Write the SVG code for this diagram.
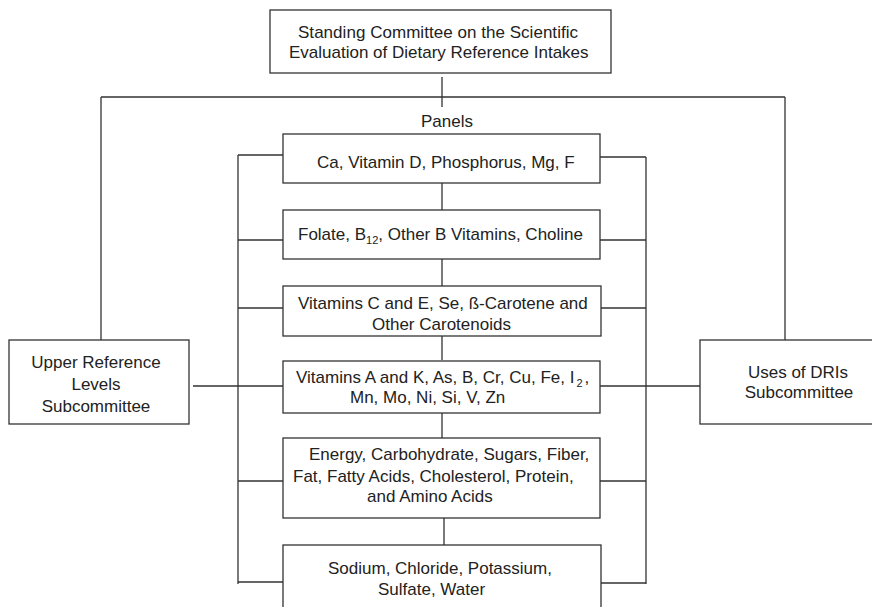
<svg xmlns="http://www.w3.org/2000/svg" width="872" height="607" viewBox="0 0 872 607">
<style>
.box{fill:#fff;stroke:#333;stroke-width:1.3}
.ln{stroke:#333;stroke-width:1.3;fill:none}
text{font-family:"Liberation Sans",Arial,sans-serif;font-size:17px;fill:#222}
.c{text-anchor:middle}
.sub{font-size:11px}
</style>
<rect width="872" height="607" fill="#fff"/>
<g id="connectors">
<path class="ln" d="M442 77V107M101 97H785M101 97V340M785 97V340"/>
<path class="ln" d="M238 155V584M646 157V584"/>
<path class="ln" d="M238 155H283M238 240H283M238 308H283M238 386H283M238 481H283M238 582H283"/>
<path class="ln" d="M600 157H646M600 240H646M601 308H646M600 386H646M600 481H646M601 583H646"/>
<path class="ln" d="M193 386H238M646 386H700"/>
<path class="ln" d="M442 183V210M442 259V286M442 336V360M442 413V438M444 518V545"/>
</g>
<g id="top">
<rect class="box" x="270" y="10" width="341" height="63"/>
<text x="298" y="38" textLength="280">Standing Committee on the Scientific</text>
<text x="289" y="58">Evaluation of Dietary Reference Intakes</text>
</g>
<g id="panels-label"><text class="c" x="447" y="127">Panels</text></g>
<g id="p1">
<rect class="box" x="283" y="134" width="317" height="49"/>
<text x="317" y="168">Ca, Vitamin D, Phosphorus, Mg, F</text>
</g>
<g id="p2">
<rect class="box" x="283" y="210" width="317" height="49"/>
<text x="298" y="240">Folate, B<tspan class="sub" dy="4">12</tspan><tspan dy="-4">, Other B Vitamins, Choline</tspan></text>
</g>
<g id="p3">
<rect class="box" x="283" y="286" width="318" height="50"/>
<text x="298" y="309">Vitamins C and E, Se, ß-Carotene and</text>
<text x="372" y="330">Other Carotenoids</text>
</g>
<g id="p4">
<rect class="box" x="283" y="361" width="317" height="52"/>
<text x="296" y="383">Vitamins A and K, As, B, Cr, Cu, Fe, I<tspan class="sub" dx="2" dy="4">2</tspan><tspan dx="2" dy="-4">,</tspan></text>
<text x="350" y="403">Mn, Mo, Ni, Si, V, Zn</text>
</g>
<g id="p5">
<rect class="box" x="283" y="438" width="317" height="80"/>
<text x="309" y="460">Energy, Carbohydrate, Sugars, Fiber,</text>
<text x="293" y="482">Fat, Fatty Acids, Cholesterol, Protein,</text>
<text x="367" y="502">and Amino Acids</text>
</g>
<g id="p6">
<rect class="box" x="283" y="545" width="318" height="70"/>
<text x="328" y="574">Sodium, Chloride, Potassium,</text>
<text x="378" y="595">Sulfate, Water</text>
</g>
<g id="upper">
<rect class="box" x="9" y="340" width="180" height="84"/>
<text class="c" x="96" y="368">Upper Reference</text>
<text class="c" x="96" y="390">Levels</text>
<text class="c" x="96" y="412">Subcommittee</text>
</g>
<g id="uses">
<rect class="box" x="700" y="340" width="180" height="84"/>
<text class="c" x="798" y="378">Uses of DRIs</text>
<text class="c" x="799" y="398">Subcommittee</text>
</g>
</svg>
